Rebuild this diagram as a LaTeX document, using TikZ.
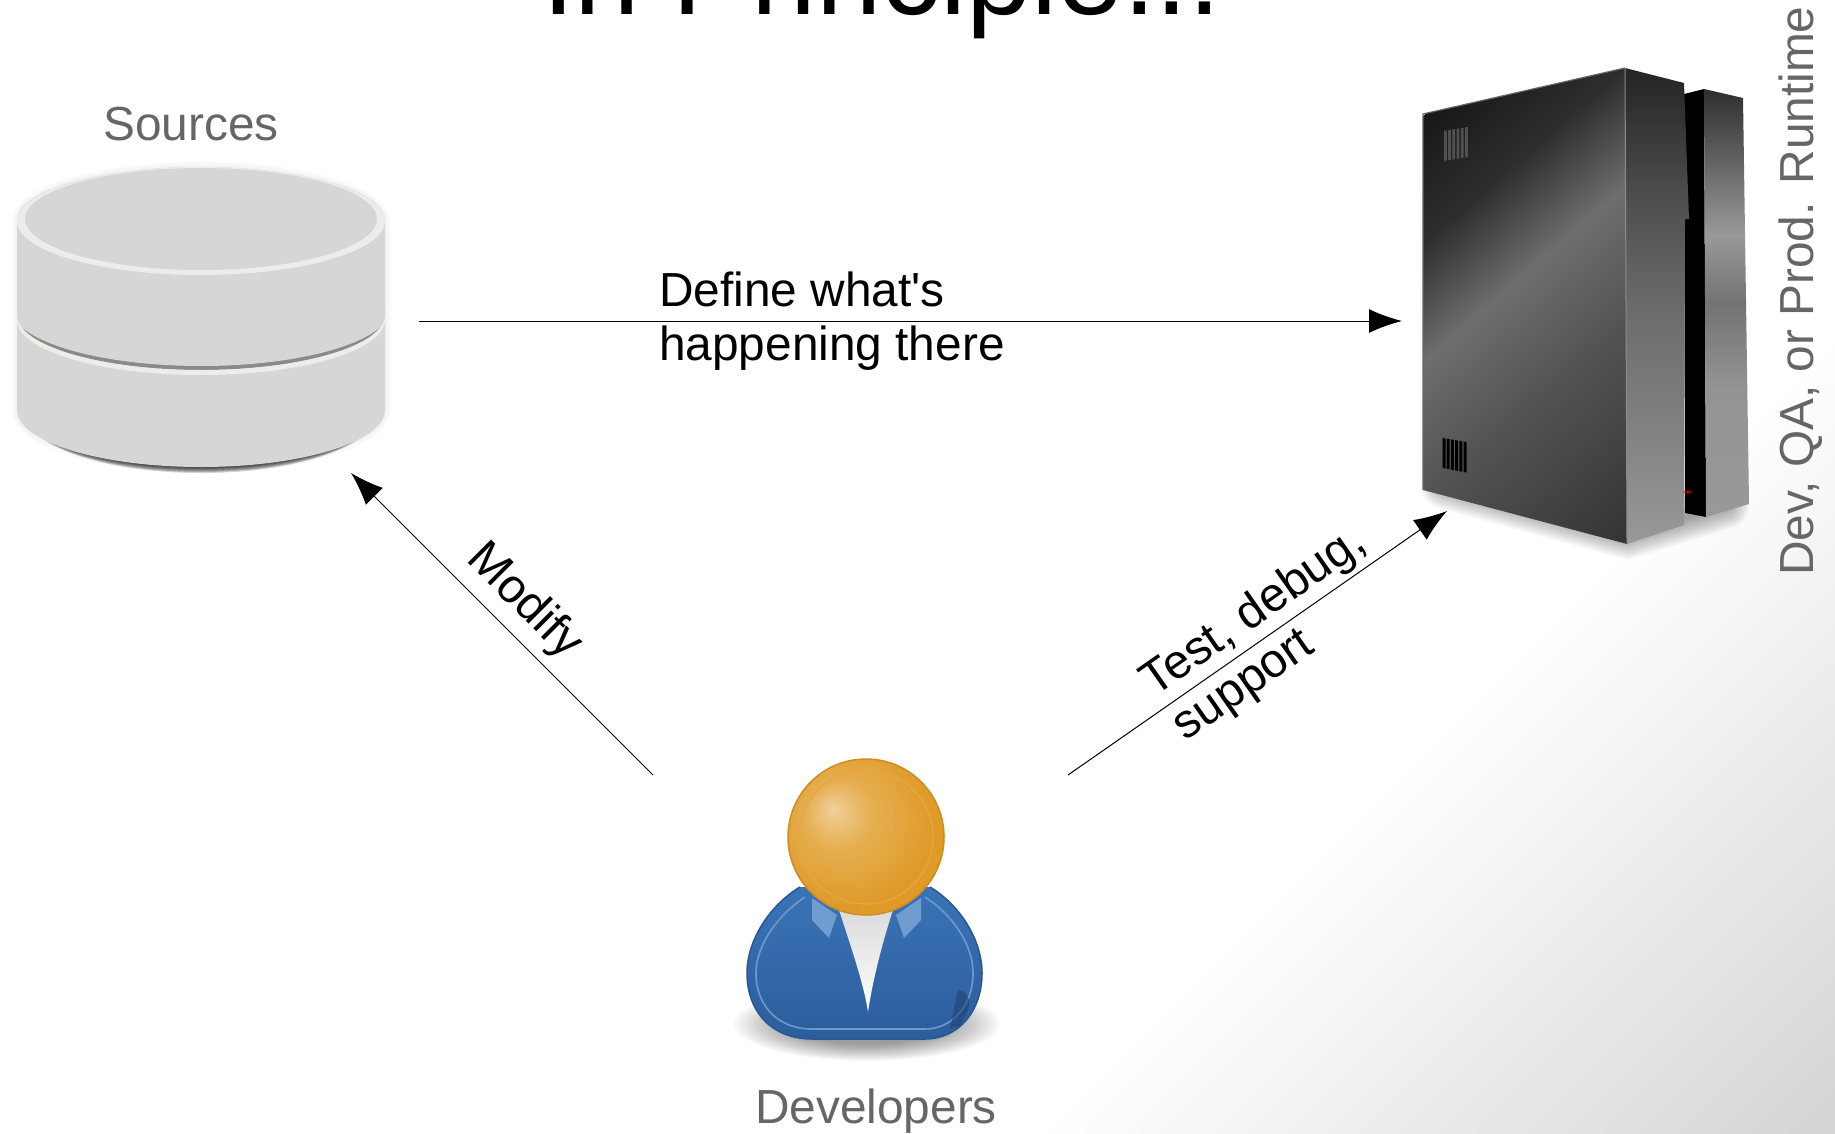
\documentclass[tikz,border=0pt]{standalone}
\usepackage{fontspec}
\setmainfont{Liberation Sans}
\usetikzlibrary{arrows.meta}
\definecolor{labelgray}{HTML}{666666}
\definecolor{disk}{HTML}{D6D6D6}
\definecolor{diskrim}{HTML}{ECECEA}
\definecolor{diskgroove}{HTML}{8A8A86}
\definecolor{headhi}{HTML}{F0D09A}
\definecolor{headmid}{HTML}{E6AE50}
\definecolor{headout}{HTML}{DF9A28}
\definecolor{headring}{HTML}{E4A843}
\definecolor{headedge}{HTML}{CF8C20}
\definecolor{bodytop}{HTML}{3A74B6}
\definecolor{bodylow}{HTML}{2C5D9C}
\definecolor{bodyedge}{HTML}{295793}
\definecolor{bodyring}{HTML}{6E9ACB}
\definecolor{bodydark}{HTML}{1F406F}
\definecolor{collar}{HTML}{6F9DD0}
\pgfdeclareverticalshading{pagegrad}{2400bp}{color(0bp)=(black!17);color(634bp)=(black!17);color(1200bp)=(white);color(2400bp)=(white)}
\pgfdeclareverticalshading{srvface}{800bp}{color(0bp)=(black!80);color(175bp)=(black!67);color(272bp)=(black!57);color(361bp)=(black!82);color(458bp)=(black!91)}
\pgfdeclareverticalshading{panela}{100bp}{color(0bp)=(black!40);color(25bp)=(black!40);color(38bp)=(black!50);color(50bp)=(black!58);color(60bp)=(black!68);color(75bp)=(black!86);color(100bp)=(black!86)}
\pgfdeclareverticalshading{panelb}{100bp}{color(0bp)=(black!40);color(25bp)=(black!40);color(40bp)=(black!42);color(50bp)=(black!55);color(58bp)=(black!40);color(75bp)=(black!82);color(100bp)=(black!82)}
\pgfdeclareradialshading{headshade}{\pgfpoint{-11bp}{9bp}}{color(0bp)=(headhi);color(11bp)=(headmid);color(27bp)=(headout);color(50bp)=(headout)}
\pgfdeclareverticalshading{bodyshade}{100bp}{color(0bp)=(bodylow);color(25bp)=(bodylow);color(75bp)=(bodytop);color(100bp)=(bodytop)}
\tikzset{
 softlabel/.style={text=labelgray,inner sep=0pt},
 edgelabel/.style={text=black,inner sep=0pt,align=left},
 linkarrow/.style={draw=black,line width=1pt,-{Latex[length=33pt,width=24pt]}},
 softshadow/.style={line join=round,line cap=round,draw=black,draw opacity=0.035},
 lab/.style={font=\fontsize{47.8}{54}\selectfont},
}
\begin{document}
\begin{tikzpicture}[x=1pt,y=-1pt]
\useasboundingbox (0,0) rectangle (1835,1134);
% page background
\begin{scope}
\clip (0,0) rectangle (1835,1134);
\fill[white] (0,0) rectangle (1835,1134);
\node[rotate=45,inner sep=0pt] (bggrad) at (1085,1085) {\pgfuseshading{pagegrad}};
\end{scope}
\node[anchor=base west,inner sep=0pt,text=black] (title) at (542,14.5) {\fontsize{117.5}{118}\selectfont In Principle...};

% ---- database
\foreach \w in {3,6,...,12}{
 \draw[softshadow,line width=\w pt,draw opacity=0.012] (17,222) -- (17,410) arc[start angle=180,end angle=0,x radius=184,y radius=57] -- (385,222) arc[start angle=0,end angle=-180,x radius=184,y radius=55] -- cycle;
}
\foreach \d in {1,2,...,7}{
 \fill[black,opacity=0.17] (25,412) arc[start angle=180,end angle=0,x radius=176,y radius=54+\d] -- cycle;
}
\fill[disk] (17,220) -- (17,410) arc[start angle=180,end angle=0,x radius=184,y radius=57] -- (385,220) arc[start angle=0,end angle=-180,x radius=184,y radius=53] -- cycle;
\fill[diskrim] (201,221) ellipse[x radius=184,y radius=54];
\fill[disk] (201,219) ellipse[x radius=176,y radius=51];
\begin{scope}
\clip (17,220) rectangle (385,420);
\fill[diskgroove] (17,315) arc[start angle=180,end angle=0,x radius=184,y radius=55] -- cycle;
\fill[disk] (11,308) arc[start angle=180,end angle=0,x radius=190,y radius=58] -- cycle;
\end{scope}
\fill[diskrim] (17,320) arc[start angle=180,end angle=0,x radius=184,y radius=55] -- (385,315) arc[start angle=0,end angle=180,x radius=184,y radius=55] -- cycle;
\node[softlabel,anchor=base,lab] (sources) at (191,141) {Sources};

% ---- server
\foreach \w in {4,8,...,48}{
 \draw[softshadow,line width=\w pt,draw opacity=0.035] (1445,485) -- (1627,535) -- (1725,505);
}
\begin{scope}
\clip (1423,114) -- (1625,68) -- (1627,544) -- (1423,490) -- cycle;
\node[rotate=41,inner sep=0pt] (srvgrad) at (1525,331) {\pgfuseshading{srvface}};
\end{scope}
\draw[black!60,line width=1.2pt] (1423,490) -- (1423,114) -- (1625,68);
\fill[black] (1684,94) -- (1704,89) -- (1706,517) -- (1685,513) -- cycle;
\path[shading=panela] (1625,68) -- (1684,83) -- (1689,219) -- (1685,219) -- (1684,525) -- (1627,544) -- cycle;
\draw[black!45,line width=1pt] (1625,68) -- (1627,544);
\path[shading=panelb] (1704,89) -- (1743,98) -- (1749,504) -- (1706,517) -- cycle;
\foreach \i in {0,1,...,5}{
 \fill[black!62,opacity=0.75] (1444+4.2*\i,{131-0.7*\i}) -- (1446.8+4.2*\i,{130.5-0.7*\i}) -- (1446.8+4.2*\i,{160.5-0.7*\i}) -- (1444+4.2*\i,{161-0.7*\i}) -- cycle;
 \fill[black] (1442.5+4.2*\i,{438+0.7*\i}) -- (1445.5+4.2*\i,{438.5+0.7*\i}) -- (1445.5+4.2*\i,{468.5+0.8*\i}) -- (1442.5+4.2*\i,{468+0.8*\i}) -- cycle;
}
\fill[red!80!black,opacity=0.35] (1688,492) ellipse[x radius=5,y radius=2.5];
\fill[red!90!black] (1688,492) circle[radius=1.3];
\node[softlabel,anchor=base west,rotate=90,lab] (runtime) at (1813.5,576) {Dev, QA, or Prod. Runtime};

% ---- person
\foreach \r in {1.0,0.97,...,0.55}{
 \fill[black,opacity=0.028] (867,1024) ellipse[x radius=133*\r,y radius=37*\r];
}
\path[shading=bodyshade] (800,887) .. controls (770,905) and (747,940) .. (747,973) .. controls (747,1012) and (772,1039) .. (812,1039) -- (925,1039) .. controls (958,1039) and (982,1012) .. (982,973) .. controls (982,940) and (960,905) .. (930,887) -- cycle;
\draw[bodyedge,line width=1.5pt] (800,887) .. controls (770,905) and (747,940) .. (747,973) .. controls (747,1012) and (772,1039) .. (812,1039) -- (925,1039) .. controls (958,1039) and (982,1012) .. (982,973) .. controls (982,940) and (960,905) .. (930,887);
\draw[bodyring,line width=1.6pt] (805,897) .. controls (778,915) and (756,945) .. (756,973) .. controls (756,1006) and (778,1029) .. (812,1029) -- (925,1029) .. controls (952,1029) and (973,1006) .. (973,973) .. controls (973,945) and (953,915) .. (925,897);
\fill[bodydark,opacity=0.55] (950,1028) -- (958,990) .. controls (966,990) and (972,1000) .. (968,1010) -- (960,1026) -- cycle;
\fill[collar] (812,898) -- (837,915) -- (829,938) -- (812,920) -- cycle;
\fill[collar] (921,898) -- (896,915) -- (904,938) -- (921,920) -- cycle;
\path[top color=black!14,bottom color=white] (839,910) -- (893,910) .. controls (880,950) and (872,985) .. (868,1012) .. controls (864,985) and (852,950) .. (839,910) -- cycle;
\node[circle,minimum size=156pt,inner sep=0pt,shading=headshade,draw=headedge,line width=1.5pt] (head) at (866,837) {};
\draw[headring,line width=1.2pt] (866,837) circle[radius=67];
\node[softlabel,anchor=base,lab] (developers) at (876,1123) {Developers};

% ---- connectors
\coordinate (srcout) at (419,321);
\coordinate (srvin) at (1402,321);
\coordinate (devleft) at (653,775);
\coordinate (srcin) at (351,473);
\coordinate (devright) at (1068,775);
\coordinate (srvlow) at (1447,511);
\draw[linkarrow] (srcout) -- (srvin);
\draw[linkarrow] (devleft) -- (srcin);
\draw[linkarrow] (devright) -- (srvlow);
\node[edgelabel,anchor=base west,lab] (define) at (659,306) {Define what\textquotesingle s};
\node[edgelabel,anchor=base west,lab] (happening) at (659,360) {happening there};
\node[edgelabel,rotate=-45,lab] (modify) at (524,602) {Modify};
\node[edgelabel,rotate=35,lab] (testdebug) at (1270,635) {Test, debug,\\support};
\end{tikzpicture}
\end{document}
